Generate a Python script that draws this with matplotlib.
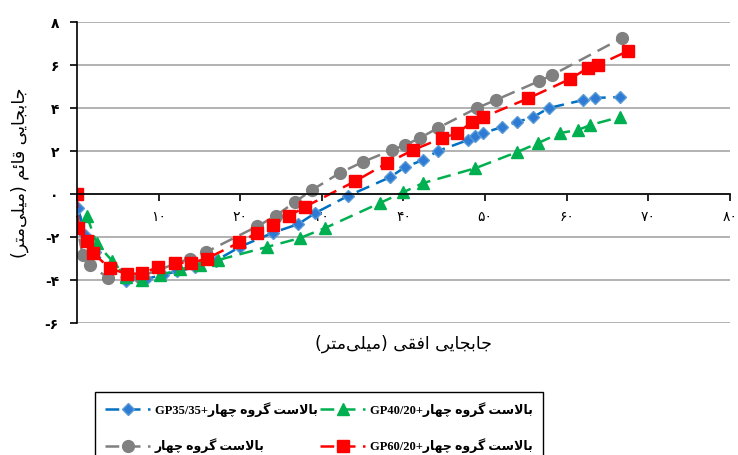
import matplotlib
matplotlib.use('Agg')
import matplotlib.pyplot as plt
from matplotlib.lines import Line2D

# horizontal / vertical displacement (mm) for each ballast mix
x_gray = [-0.2, 0.7, 1.6, 3.8, 7.7, 13.8, 15.8, 22.1, 24.4, 26.7, 28.8, 32.2, 35.0, 38.6,
          40.2, 42.0, 44.2, 49.0, 51.3, 56.6, 58.2, 66.8]
y_gray = [-1.1, -2.85, -3.3, -3.9, -3.85, -3.0, -2.7, -1.5, -1.0, -0.37, 0.19, 0.98, 1.49, 2.05,
          2.28, 2.6, 3.07, 4.0, 4.37, 5.25, 5.53, 7.26]

x_blue = [0.1, 1.0, 2.2, 4.0, 6.0, 8.5, 10.5, 12.3, 14.5, 17.0, 20.0, 24.0, 27.1, 29.2, 33.2,
          38.4, 40.2, 42.4, 44.2, 47.9, 48.8, 49.8, 52.1, 53.9, 55.9, 57.8, 62.0, 63.5, 66.5]
y_blue = [-0.65, -1.9, -2.7, -3.5, -4.05, -3.95, -3.75, -3.6, -3.4, -3.1, -2.45, -1.8, -1.4,
          -0.88, -0.09, 0.79, 1.26, 1.58, 2.0, 2.51, 2.7, 2.84, 3.12, 3.35, 3.58, 4.0, 4.37, 4.47, 4.51]

x_green = [1.2, 2.4, 4.3, 6.0, 8.0, 10.2, 12.6, 15.1, 17.3, 23.3, 27.3, 30.4, 37.1, 40.0, 42.4,
           48.8, 53.9, 56.5, 59.2, 61.4, 62.9, 66.5]
y_green = [-1.0, -2.3, -3.1, -3.85, -4.0, -3.77, -3.5, -3.3, -3.07, -2.46, -2.05, -1.58, -0.42,
           0.09, 0.51, 1.2, 1.95, 2.37, 2.84, 2.98, 3.21, 3.58]

x_red = [0.0, 0.1, 1.2, 2.0, 4.0, 6.1, 8.0, 9.9, 12.0, 14.0, 15.9, 19.9, 22.1, 24.0, 26.0, 27.9,
         34.1, 38.0, 41.2, 44.7, 46.6, 48.4, 49.8, 55.3, 60.4, 62.6, 63.8, 67.5]
y_red = [0.0, -1.6, -2.2, -2.75, -3.45, -3.72, -3.69, -3.4, -3.2, -3.2, -3.0, -2.25, -1.8, -1.44,
         -1.02, -0.6, 0.6, 1.44, 2.05, 2.6, 2.84, 3.35, 3.58, 4.45, 5.35, 5.86, 6.0, 6.65]

x_ticks = [0, 10, 20, 30, 40, 50, 60, 70, 80]
y_ticks = [-6, -4, -2, 0, 2, 4, 6, 8]

# persian contextual forms: isolated, final, initial, medial
FORMS = {
    'ا': ('\uFE8D', '\uFE8E', None, None),
    'ب': ('\uFE8F', '\uFE90', '\uFE91', '\uFE92'),
    'ت': ('\uFE95', '\uFE96', '\uFE97', '\uFE98'),
    'ج': ('\uFE9D', '\uFE9E', '\uFE9F', '\uFEA0'),
    'چ': ('\uFB7A', '\uFB7B', '\uFB7C', '\uFB7D'),
    'ر': ('\uFEAD', '\uFEAE', None, None),
    'س': ('\uFEB1', '\uFEB2', '\uFEB3', '\uFEB4'),
    'ف': ('\uFED1', '\uFED2', '\uFED3', '\uFED4'),
    'ق': ('\uFED5', '\uFED6', '\uFED7', '\uFED8'),
    'گ': ('\uFB92', '\uFB93', '\uFB94', '\uFB95'),
    'ل': ('\uFEDD', '\uFEDE', '\uFEDF', '\uFEE0'),
    'م': ('\uFEE1', '\uFEE2', '\uFEE3', '\uFEE4'),
    'ه': ('\uFEE9', '\uFEEA', '\uFEEB', '\uFEEC'),
    'و': ('\uFEED', '\uFEEE', None, None),
    'ی': ('\uFBFC', '\uFBFD', '\uFBFE', '\uFBFF'),
    'ئ': ('\uFE89', '\uFE8A', '\uFE8B', '\uFE8C'),
}


def fa(text):
    out = []
    i = 0
    n = len(text)
    while i < n:
        c = text[i]
        if c not in FORMS:
            if c != '\u200c':
                out.append(c)
            i += 1
            continue
        prev = text[i - 1] if i > 0 else ''
        joins_prev = prev in FORMS and FORMS[prev][2] is not None
        if c == 'ل' and i + 1 < n and text[i + 1] == 'ا':
            out.append('\uFEFC' if joins_prev else '\uFEFB')
            i += 2
            continue
        nxt = text[i + 1] if i + 1 < n else ''
        joins_next = FORMS[c][2] is not None and nxt in FORMS
        iso, fin, ini, med = FORMS[c]
        if joins_prev and joins_next:
            out.append(med)
        elif joins_prev:
            out.append(fin)
        elif joins_next:
            out.append(ini)
        else:
            out.append(iso)
        i += 1
    swap = {'(': ')', ')': '('}
    return ''.join(swap.get(ch, ch) for ch in reversed(out))


def fa_num(v):
    digits = '۰۱۲۳۴۵۶۷۸۹'
    s = ''.join(digits[int(d)] for d in str(abs(v)))
    return '-' + s if v < 0 else s


plt.rcParams['font.family'] = ['Liberation Serif', 'DejaVu Sans']

fig = plt.figure(figsize=(7.38, 4.55), dpi=100)
ax = fig.add_axes([0.1043, 0.290, 0.8848, 0.6616])

dash = (0, (5.5, 3))
lw = 1.8
ax.plot(x_gray, y_gray, color='#808080', ls=dash, lw=lw, marker='o', ms=8.5,
        mfc='#808080', mec='#808080')
ax.plot(x_blue, y_blue, color='#0070C0', ls=dash, lw=lw, marker='D', ms=6.3,
        mfc='#2E7BD6', mec='#5B9BD5')
ax.plot(x_green, y_green, color='#00B050', ls=dash, lw=lw, marker='^', ms=8.5,
        mfc='#00B050', mec='#00B050')
ax.plot(x_red, y_red, color='#FF0000', ls=dash, lw=lw, marker='s', ms=8.2,
        mfc='#FF0000', mec='#FF0000')

ax.set_xlim(0, 80)
ax.set_ylim(-6, 8)
ax.set_yticks(y_ticks)
ax.set_xticks(x_ticks)
ax.set_yticklabels([fa_num(v) for v in y_ticks], fontfamily='DejaVu Sans',
                   fontweight='bold', fontsize=10)
ax.set_xticklabels([fa_num(v) for v in x_ticks], fontfamily='DejaVu Sans',
                   fontweight='bold', fontsize=10)

ax.grid(axis='y', color='#A6A6A6', lw=1.2)
ax.set_axisbelow(True)
for s in ['top', 'right']:
    ax.spines[s].set_visible(False)
ax.spines['bottom'].set_position(('data', 0))
ax.spines['bottom'].set_linewidth(1.2)
ax.spines['left'].set_linewidth(1.2)
ax.tick_params(axis='both', direction='out', length=5, width=1.2, colors='black')
ax.tick_params(axis='y', pad=8)
ax.tick_params(axis='x', pad=7)

ax.set_xlabel(fa('جابجایی افقی (میلی\u200cمتر)'), fontfamily='DejaVu Sans', fontsize=12.5)
ax.xaxis.set_label_coords(0.5, -0.04)
ax.set_ylabel(fa('جابجایی قائم (میلی\u200cمتر)'), fontfamily='DejaVu Sans', fontsize=12.5)
ax.yaxis.label.set_verticalalignment('center')
ax.yaxis.set_label_coords(-0.087, 0.5)

base = fa('بالاست گروه چهار')
handles = [
    Line2D([], [], color='#0070C0', ls=dash, lw=lw, marker='D', ms=6.3, mfc='#2E7BD6', mec='#5B9BD5'),
    Line2D([], [], color='#808080', ls=dash, lw=lw, marker='o', ms=8.5),
    Line2D([], [], color='#00B050', ls=dash, lw=lw, marker='^', ms=8.5),
    Line2D([], [], color='#FF0000', ls=dash, lw=lw, marker='s', ms=8.2),
]
labels = ['GP35/35+' + base, base, 'GP40/20+' + base, 'GP60/20+' + base]
leg = fig.legend(handles, labels, loc='upper left', bbox_to_anchor=(95 / 738, 1 - 392 / 455),
                 ncol=2, frameon=True, fancybox=False, edgecolor='black', framealpha=1,
                 prop={'weight': 'bold', 'size': 9}, handlelength=3.6, handletextpad=0.4,
                 columnspacing=0.2, labelspacing=1.7, borderpad=0.8, borderaxespad=0)
leg.get_frame().set_linewidth(1.0)

fig.savefig('out.png', dpi=100)
